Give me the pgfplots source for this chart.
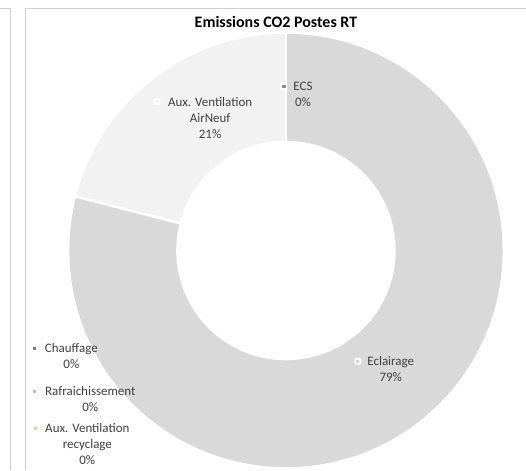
\documentclass[border=0pt]{standalone}
\usepackage{pgfplots}
\pgfplotsset{compat=1.18}
\usepackage{fontspec}
\setmainfont{Carlito}

\definecolor{frame}{HTML}{D0D0D0}
\definecolor{cEcl}{HTML}{D9D9D9}
\definecolor{cAir}{HTML}{F2F2F2}
\definecolor{cECS}{HTML}{8C8C8C}
\definecolor{cCh}{HTML}{7F7F7F}
\definecolor{cRaf}{HTML}{BFBFBF}
\definecolor{cRec}{HTML}{F8CBAD}
\definecolor{txt}{HTML}{404040}

\tikzset{lbl/.style={font=\fontsize{13}{16}\selectfont, text=txt, align=center, inner sep=0pt}}

% donut centre (px), radii (1 unit = 1pt)
\def\cx{286}\def\cy{220}\def\Ro{217}\def\Ri{110}

% wedge from angle #1 covering #2 percent, clockwise
\newcommand{\donutwedge}[3]{%
  \fill[#3] (axis cs:\cx,\cy) -- ++(#1:\Ro pt)
    arc[start angle=#1, end angle={#1-3.6*#2}, radius=\Ro pt] -- cycle;}
\newcommand{\lblmark}[3]{%
  \fill[white, rounded corners=1.5pt] (axis cs:#1-3.5,#2-3.5) rectangle (axis cs:#1+3.5,#2+3.5);
  \fill[#3] (axis cs:#1-1.6,#2-1.6) rectangle (axis cs:#1+1.6,#2+1.6);}

\begin{document}
\begin{tikzpicture}
\begin{axis}[x=1pt, y=1pt, xmin=0, xmax=526, ymin=0, ymax=471,
    hide axis, clip=false, anchor=origin]
  \fill[white] (axis cs:0,0) rectangle (axis cs:526,471);
  % chart frames
  \draw[frame, line width=1pt] (axis cs:0,462) -- (axis cs:10,462) -- (axis cs:10,0);
  \draw[frame, line width=1pt] (axis cs:25,0) -- (axis cs:25,462) -- (axis cs:526,462);

  % values (%): ECS 0, Eclairage 79, AirNeuf 21, Chauffage 0, Rafraichissement 0, recyclage 0
  \donutwedge{90}{79}{cEcl}
  \donutwedge{-194.4}{21}{cAir}
  \fill[white] (axis cs:\cx,\cy) circle[radius=\Ri pt];
  \draw[white, line width=2pt] (axis cs:\cx,\cy) -- ++(90:218pt);
  \draw[white, line width=2.5pt] (axis cs:\cx,\cy) -- ++(165.6:219pt);

  \node[inner sep=0pt, font=\fontsize{16}{18}\selectfont\bfseries, text=black] at (axis cs:276,449) {Emissions CO2 Postes RT};

  \lblmark{284}{384}{cECS}
  \node[lbl] at (axis cs:303,376) {ECS\\0\%};
  \lblmark{157}{369}{cAir}
  \node[lbl] at (axis cs:210,353) {Aux. Ventilation\\AirNeuf\\21\%};
  \lblmark{358}{109}{cEcl}
  \node[lbl] at (axis cs:391,101) {Eclairage\\79\%};
  \lblmark{34}{122}{cCh}
  \node[lbl] at (axis cs:71,114) {Chauffage\\0\%};
  \lblmark{34}{79}{cRaf}
  \node[lbl] at (axis cs:90,71) {Rafraichissement\\0\%};
  \lblmark{35}{42}{cRec}
  \node[lbl] at (axis cs:87,26) {Aux. Ventilation\\recyclage\\0\%};
\end{axis}
\end{tikzpicture}
\end{document}
